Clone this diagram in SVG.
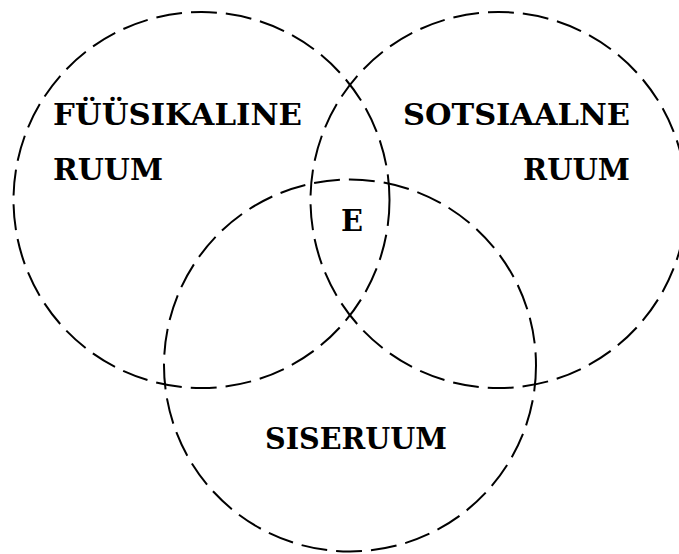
<svg xmlns="http://www.w3.org/2000/svg" width="679" height="554" viewBox="0 0 679 554">
<style>
.c{fill:none;stroke:#000;stroke-width:2;stroke-dasharray:26 9}
.t{font-family:"DejaVu Serif","Liberation Serif",serif;font-weight:bold;font-size:29px;fill:#000}
</style>
<rect width="679" height="554" fill="#fff"/>
<g id="fyysiline">
<circle class="c" cx="201.5" cy="200" r="188"/>
<text class="t" x="53" y="125" textLength="249" lengthAdjust="spacingAndGlyphs">FÜÜSIKALINE</text>
<text class="t" x="53" y="180" textLength="110" lengthAdjust="spacingAndGlyphs">RUUM</text>
</g>
<g id="sotsiaalne">
<circle class="c" cx="498.5" cy="200" r="188"/>
<text class="t" x="403" y="125" textLength="227" lengthAdjust="spacingAndGlyphs">SOTSIAALNE</text>
<text class="t" x="523" y="180" textLength="107" lengthAdjust="spacingAndGlyphs">RUUM</text>
</g>
<g id="siseruum">
<circle class="c" cx="350" cy="365.5" r="186"/>
<text class="t" x="265" y="449" textLength="182" lengthAdjust="spacingAndGlyphs">SISERUUM</text>
</g>
<g id="e">
<text class="t" x="341" y="231" textLength="22" lengthAdjust="spacingAndGlyphs">E</text>
</g>
<g id="connectors"/>
</svg>
